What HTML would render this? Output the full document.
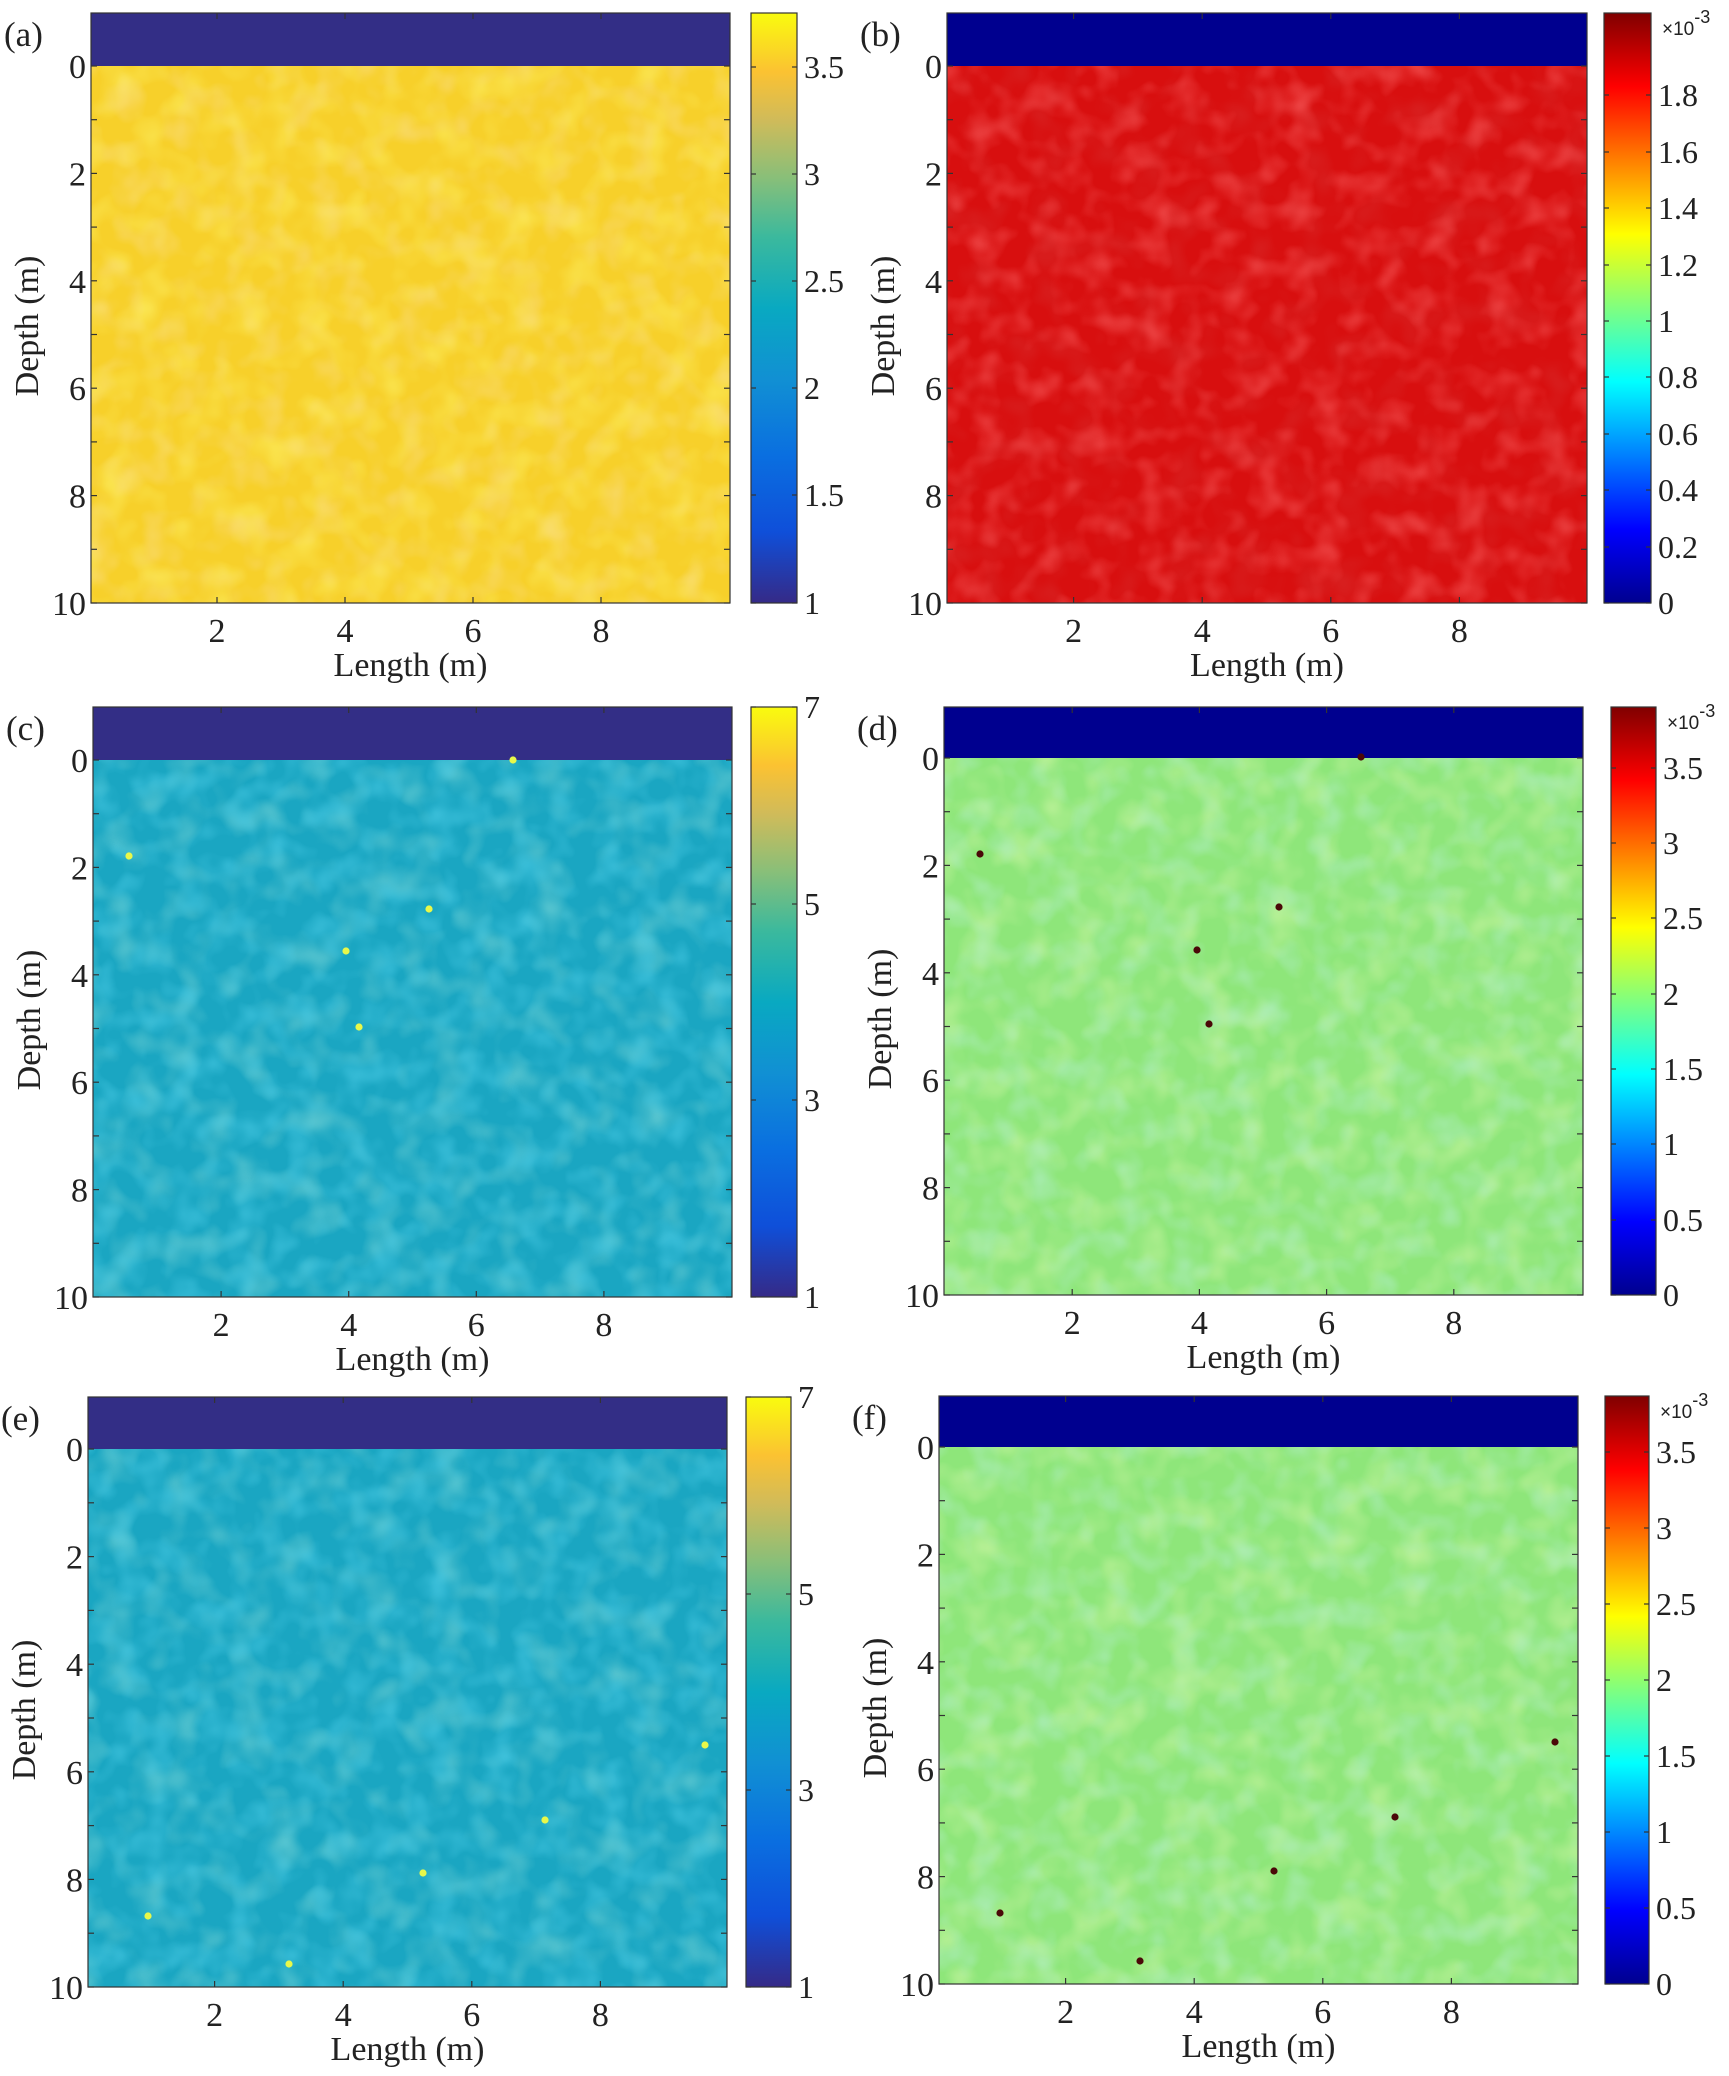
<!DOCTYPE html>
<html><head><meta charset="utf-8">
<style>
html,body{margin:0;padding:0;background:#fff;}
svg{display:block;}
</style></head>
<body>
<svg id="s" width="1729" height="2076" viewBox="0 0 1729 2076" xmlns="http://www.w3.org/2000/svg" font-family="'Liberation Serif', 'Times New Roman', serif">
<defs>
<linearGradient id="parula" x1="0" y1="1" x2="0" y2="0">
<stop offset="0" stop-color="#352a87"/><stop offset="0.12" stop-color="#0f4fd9"/>
<stop offset="0.25" stop-color="#0a6fe0"/><stop offset="0.38" stop-color="#1190d3"/>
<stop offset="0.5" stop-color="#09a9c1"/><stop offset="0.62" stop-color="#3bb99d"/>
<stop offset="0.72" stop-color="#88bf79"/><stop offset="0.82" stop-color="#d1bb59"/>
<stop offset="0.9" stop-color="#fbc232"/><stop offset="1" stop-color="#f9fb0e"/>
</linearGradient>
<linearGradient id="jet" x1="0" y1="1" x2="0" y2="0">
<stop offset="0" stop-color="#00008f"/><stop offset="0.125" stop-color="#0000ff"/>
<stop offset="0.375" stop-color="#00ffff"/><stop offset="0.625" stop-color="#ffff00"/>
<stop offset="0.875" stop-color="#ff0000"/><stop offset="1" stop-color="#800000"/>
</linearGradient>
</defs>
<g id="root"></g>
</svg>
<script>
const NS="http://www.w3.org/2000/svg";
const root=document.getElementById('root');
const defs=document.querySelector('defs');
const SERIF="'Liberation Serif', 'Times New Roman', serif";
function el(tag,attrs,parent,txt){const e=document.createElementNS(NS,tag);for(const k in attrs)e.setAttribute(k,attrs[k]);if(txt!==undefined)e.textContent=txt;(parent||root).appendChild(e);return e;}
function tx(attrs,txt){attrs['font-family']=attrs['font-family']||SERIF;attrs.fill='#222';return el('text',attrs,null,txt);}
function hex(c){return [parseInt(c.substr(1,2),16)/255,parseInt(c.substr(3,2),16)/255,parseInt(c.substr(5,2),16)/255];}
let fid=0;
function noiseFilter(color,seed,freq,amp){
  const id='n'+(fid++);const [r,g,b]=hex(color);
  const f=el('filter',{id:id,x:'0',y:'0',width:'100%',height:'100%'},defs);
  el('feTurbulence',{type:'fractalNoise',baseFrequency:freq,numOctaves:'2',seed:seed},f);
  el('feColorMatrix',{type:'matrix',values:`0 0 0 0 ${r} 0 0 0 0 ${g} 0 0 0 0 ${b} ${amp} 0 0 0 ${-amp*0.45}`},f);
  return id;
}
const panels=[
 {lab:'(a)',L:91,R:730,T:13,Y0:66,B:603,x0:89,xs:64,band:'#332e86',base:'#f7d02a',n1:'#fae425',n2:'#f2b83a',
  cbL:751,cbR:797,grad:'parula',cbt:[['3.5',67],['3',174],['2.5',281],['2',388],['1.5',495],['1',603]],dots:[],exp:false},
 {lab:'(b)',L:947,R:1587,T:13,Y0:66,B:603,x0:945,xs:64.3,band:'#00008f',base:'#d80f0f',n1:'#b00606',n2:'#f21e1e',
  cbL:1604,cbR:1651,grad:'jet',cbt:[['1.8',95],['1.6',152],['1.4',208],['1.2',265],['1',321],['0.8',377],['0.6',434],['0.4',490],['0.2',547],['0',603]],dots:[],exp:true},
 {lab:'(c)',L:93,R:732,T:707,Y0:760,B:1297,x0:93.5,xs:63.8,band:'#332e86',base:'#1aa6c2',n1:'#35b0b0',n2:'#139ccc',
  cbL:751,cbR:797,grad:'parula',cbt:[['7',707],['5',904],['3',1100],['1',1297]],
  dots:[[513,760],[129,856],[429,909],[346,951],[359,1027]],dc:'#e8f84a',exp:false},
 {lab:'(d)',L:944,R:1583,T:707,Y0:758,B:1295,x0:945,xs:63.6,band:'#00008f',base:'#8ee67a',n1:'#a6ee64',n2:'#74dc98',
  cbL:1611,cbR:1656,grad:'jet',cbt:[['3.5',768],['3',843],['2.5',918],['2',994],['1.5',1069],['1',1144],['0.5',1220],['0',1295]],
  dots:[[1361,757],[980,854],[1279,907],[1197,950],[1209,1024]],dc:'#4a0808',exp:true},
 {lab:'(e)',L:88,R:727,T:1397,Y0:1449,B:1987,x0:86,xs:64.3,band:'#332e86',base:'#1aa6c2',n1:'#35b0b0',n2:'#139ccc',
  cbL:746,cbR:791,grad:'parula',cbt:[['7',1397],['5',1594],['3',1790],['1',1987]],
  dots:[[148,1916],[289,1964],[423,1873],[545,1820],[705,1745]],dc:'#e8f84a',exp:false},
 {lab:'(f)',L:939,R:1578,T:1396,Y0:1447,B:1984,x0:937,xs:64.3,band:'#00008f',base:'#8ee67a',n1:'#a6ee64',n2:'#74dc98',
  cbL:1605,cbR:1649,grad:'jet',cbt:[['3.5',1452],['3',1528],['2.5',1604],['2',1680],['1.5',1756],['1',1832],['0.5',1908],['0',1984]],
  dots:[[1000,1913],[1140,1961],[1274,1871],[1395,1817],[1555,1742]],dc:'#4a0808',exp:true}
];
panels.forEach((p,i)=>{
  const W=p.R-p.L, ys=(p.B-p.Y0)/10;
  el('rect',{x:p.L,y:p.Y0,width:W,height:p.B-p.Y0,fill:p.base});
  const f1=noiseFilter(p.n1,i*7+1,'0.03',1.3), f2=noiseFilter(p.n2,i*7+4,'0.035',1.3);
  el('rect',{x:p.L,y:p.Y0,width:W,height:p.B-p.Y0,fill:'#000',filter:`url(#${f1})`});
  el('rect',{x:p.L,y:p.Y0,width:W,height:p.B-p.Y0,fill:'#000',filter:`url(#${f2})`});
  el('rect',{x:p.L,y:p.T,width:W,height:p.Y0-p.T,fill:p.band});
  p.dots.forEach(d=>el('circle',{cx:d[0],cy:d[1],r:3.6,fill:p.dc}));
  el('rect',{x:p.L,y:p.T,width:W,height:p.B-p.T,fill:'none',stroke:'#333','stroke-width':1.2});
  for(let v=0;v<=10;v++){const y=p.Y0+v*ys;
    el('line',{x1:p.L,y1:y,x2:p.L+6,y2:y,stroke:'#333','stroke-width':1.2});
    el('line',{x1:p.R,y1:y,x2:p.R-6,y2:y,stroke:'#333','stroke-width':1.2});
    if(v%2==0) tx({x:p.L-5,y:y+12,'text-anchor':'end','font-size':34},String(v));
  }
  for(let v=2;v<=8;v+=2){const x=p.x0+v*p.xs;
    el('line',{x1:x,y1:p.B,x2:x,y2:p.B-6,stroke:'#333','stroke-width':1.2});
    el('line',{x1:x,y1:p.T,x2:x,y2:p.T+6,stroke:'#333','stroke-width':1.2});
    tx({x:x,y:p.B+39,'text-anchor':'middle','font-size':34},String(v));
  }
  tx({x:(p.L+p.R)/2,y:p.B+73,'text-anchor':'middle','font-size':34},'Length (m)');
  const dx=p.L-53;const dy=(p.T+p.B)/2+18;
  tx({x:dx,y:dy,'text-anchor':'middle','font-size':34,transform:`rotate(-90 ${dx} ${dy})`},'Depth (m)');
  tx({x:p.L-87,y:p.T+33,'font-size':35},p.lab);
  el('rect',{x:p.cbL,y:p.T,width:p.cbR-p.cbL,height:p.B-p.T,fill:`url(#${p.grad})`,stroke:'#333','stroke-width':1.2});
  p.cbt.forEach(t=>{
    el('line',{x1:p.cbR,y1:t[1],x2:p.cbR-5,y2:t[1],stroke:'#333','stroke-width':1.2});
    el('line',{x1:p.cbL,y1:t[1],x2:p.cbL+5,y2:t[1],stroke:'#333','stroke-width':1.2});
    tx({x:p.cbR+7,y:t[1]+11,'font-size':32},t[0]);
  });
  if(p.exp){
    const t=tx({x:p.cbR+11,y:p.T+22,'font-size':19,'font-family':"'Liberation Sans', sans-serif"});
    el('tspan',{},t,'\u00d710');
    el('tspan',{dy:-12,'font-size':18},t,'-3');
  }
});
</script>
</body></html>
